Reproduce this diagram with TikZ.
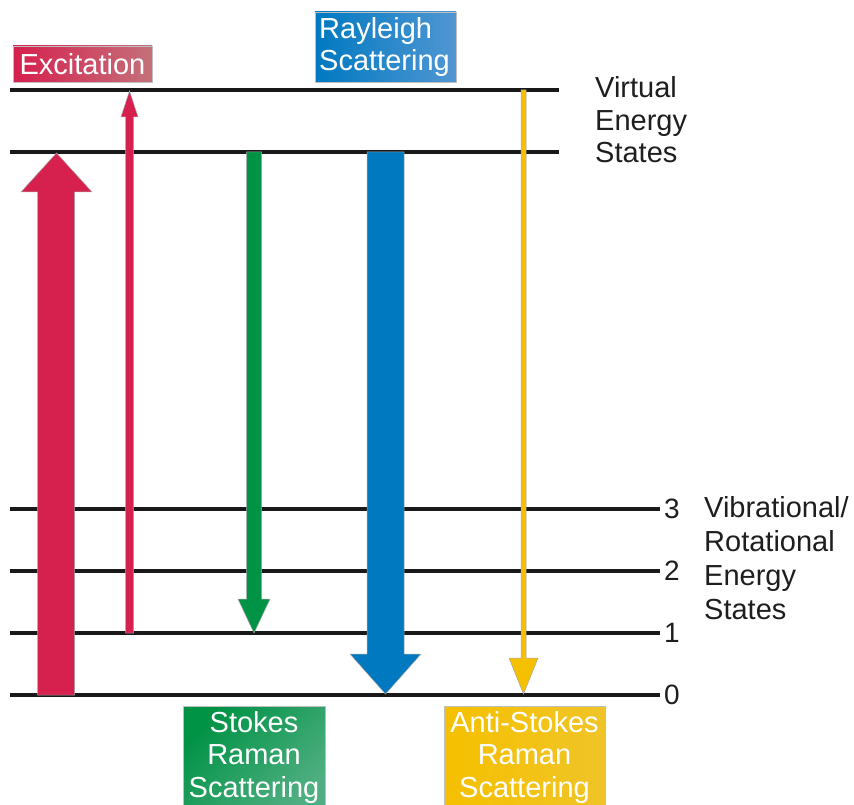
\documentclass[tikz,border=0pt]{standalone}
\usepackage{fontspec}
\setmainfont{Liberation Sans}
\definecolor{exred}{RGB}{214,32,78}
\definecolor{exrose}{RGB}{196,112,122}
\definecolor{raygblue}{RGB}{0,121,193}
\definecolor{raylight}{RGB}{80,150,210}
\definecolor{stkgreen}{RGB}{0,146,69}
\definecolor{stklight}{RGB}{80,175,130}
\definecolor{asyellow}{RGB}{245,192,0}
\definecolor{aslight}{RGB}{240,196,40}
\definecolor{txtgray}{RGB}{30,30,30}
\tikzset{
  level/.style={line width=4pt, draw=black!90},
  arrowshape/.style={draw=black!35, line width=0.5pt},
  boxtext/.style={text=white, inner sep=0pt, font=\fontsize{29}{32.5}\selectfont},
  sidetext/.style={text=txtgray, inner sep=0pt, align=left, font=\fontsize{29}{32.5}\selectfont},
  numtext/.style={text=txtgray, inner sep=0pt, anchor=west, font=\fontsize{28}{32}\selectfont}
}
\begin{document}
\begin{tikzpicture}[x=1pt,y=-1pt]
\useasboundingbox (0,0) rectangle (854,805);
\clip (0,0) rectangle (854,805);

% energy levels
\coordinate (v1l) at (10,90);   \coordinate (v1r) at (559,90);
\coordinate (v0l) at (10,152);  \coordinate (v0r) at (559,152);
\coordinate (l3l) at (10,509);  \coordinate (l3r) at (660,509);
\coordinate (l2l) at (10,571);  \coordinate (l2r) at (660,571);
\coordinate (l1l) at (10,633);  \coordinate (l1r) at (660,633);
\coordinate (l0l) at (10,695);  \coordinate (l0r) at (660,695);
\foreach \a/\b in {v1l/v1r,v0l/v0r,l3l/l3r,l2l/l2r,l1l/l1r,l0l/l0r}
  \draw[level] (\a) -- (\b);

% level numbers
\node[numtext] (n3) at (664,509) {3};
\node[numtext] (n2) at (664,571) {2};
\node[numtext] (n1) at (664,633) {1};
\node[numtext] (n0) at (664,695) {0};

% excitation arrows
\fill[exred, arrowshape] (37.5,695) -- (37.5,192) -- (21,192) -- (56.5,153) -- (92,192) -- (74.5,192) -- (74.5,695) -- cycle;
\fill[exred, arrowshape] (125.5,633) -- (125.5,117) -- (121,117) -- (129.5,91) -- (138,117) -- (133.5,117) -- (133.5,633) -- cycle;

% Stokes (green)
\fill[stkgreen, arrowshape] (246.5,152) -- (261.5,152) -- (261.5,599) -- (270,599) -- (254,633) -- (238,599) -- (246.5,599) -- cycle;

% Rayleigh (blue)
\fill[raygblue, arrowshape] (367,152) -- (404,152) -- (404,654) -- (421,654) -- (385.5,694) -- (350,654) -- (367,654) -- cycle;

% Anti-Stokes (yellow)
\fill[asyellow, arrowshape] (521,90) -- (526,90) -- (526,658) -- (538,658) -- (523.5,694) -- (509,658) -- (521,658) -- cycle;

% label boxes
\shade[left color=exred, right color=exrose, draw=black!25, line width=0.5pt] (13,46) rectangle (152,82);
\node[boxtext, anchor=base] (exc) at (82.5,75) {Excitation};

\shade[left color=raygblue, right color=raylight, draw=black!25, line width=0.5pt] (315,12) rectangle (456,82);
\node[boxtext, anchor=base west, align=left] (ray) at (319,71) {Rayleigh\\Scattering};

\shade[top color=stkgreen, bottom color=stklight, shading angle=45, draw=black!25, line width=0.5pt] (183,706) rectangle (325,812);
\node[boxtext, anchor=base, align=center] (stk) at (254,797) {Stokes\\Raman\\Scattering};

\shade[left color=asyellow, right color=aslight, draw=black!25, line width=0.5pt] (444,706) rectangle (605,812);
\node[boxtext, anchor=base, align=center] (ast) at (524.5,797) {Anti-Stokes\\Raman\\Scattering};

% side labels
\node[sidetext, anchor=base west] (virt) at (595,163) {Virtual\\Energy\\States};
\node[sidetext, anchor=base west, font=\fontsize{29}{34}\selectfont] (vib) at (704,619) {Vibrational/\\Rotational\\Energy\\States};
\end{tikzpicture}
\end{document}
